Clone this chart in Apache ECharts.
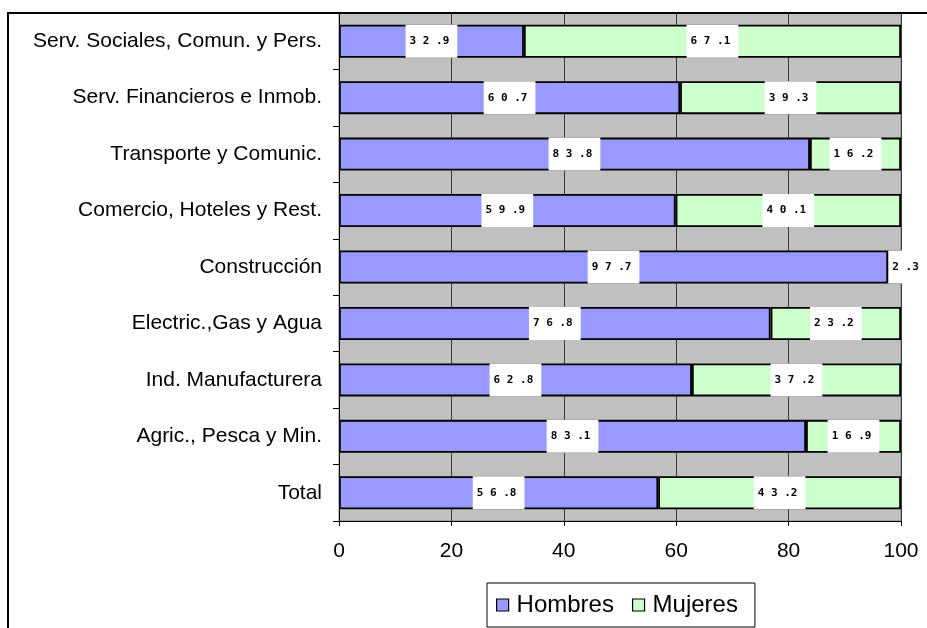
<!DOCTYPE html>
<html>
<head>
<meta charset="utf-8">
<script src="https://cdn.jsdelivr.net/npm/echarts@6/dist/echarts.min.js"></script>
<style>html,body{margin:0;padding:0;background:#fff}#c{width:927px;height:628px}</style>
</head>
<body>
<div id="c"></div>
<script>
const categories = ["Total", "Agric., Pesca y Min.", "Ind. Manufacturera", "Electric.,Gas y Agua", "Construcción", "Comercio, Hoteles y Rest.", "Transporte y Comunic.", "Serv. Financieros e Inmob.", "Serv. Sociales, Comun. y Pers."];
const hombres = [56.8, 83.1, 62.8, 76.8, 97.7, 59.9, 83.8, 60.7, 32.9];
const mujeres = [43.2, 16.9, 37.2, 23.2, 2.3, 40.1, 16.2, 39.3, 67.1];
const xTicks = [0, 20, 40, 60, 80, 100];

function fmt(v) {
  const s = v.toFixed(1);
  const parts = s.split('.');
  return parts[0].split('').join(' ') + ' .' + parts[1];
}

const chart = echarts.init(document.getElementById('c'), null, {renderer: 'canvas'});
const labelStyle = {
  show: true,
  position: 'inside',
  formatter: p => fmt(p.value),
  backgroundColor: '#fff',
  color: '#000',
  fontFamily: 'DejaVu Sans Mono',
  fontWeight: 'bold',
  fontSize: 11,
  lineHeight: 12,
  padding: [11, 8, 10, 4]
};
function mkData(arr) {
  return arr.map(v => v < 5 ? {value: v, label: {offset: [13, 0]}} : v);
}
chart.setOption({
  animation: false,
  backgroundColor: '#fff',
  grid: {left: 339, right: 26, top: 13, bottom: 107, show: true, backgroundColor: '#C0C0C0', borderWidth: 1, borderColor: '#808080'},
  xAxis: {
    type: 'value', min: xTicks[0], max: xTicks[xTicks.length - 1], interval: 20,
    axisLine: {show: true, lineStyle: {color: '#000', width: 1}},
    axisTick: {show: true, length: 5, lineStyle: {color: '#000'}},
    axisLabel: {color: '#000', fontSize: 21, fontFamily: 'Liberation Sans', margin: 20},
    splitLine: {show: true, lineStyle: {color: '#3a3a3a', width: 1}}
  },
  yAxis: {
    type: 'category', data: categories,
    axisLine: {show: true, lineStyle: {color: '#000', width: 1}},
    axisTick: {show: true, length: 6, lineStyle: {color: '#000'}},
    axisLabel: {color: '#000', fontSize: 21, fontFamily: 'Liberation Sans', margin: 17}
  },
  legend: {
    top: 583, left: 487,
    data: ['Hombres', 'Mujeres'],
    icon: 'rect', itemWidth: 12, itemHeight: 12, itemGap: 18,
    borderColor: '#000', borderWidth: 1, padding: [10, 17, 10, 9],
    textStyle: {color: '#000', fontSize: 24, fontFamily: 'Liberation Sans', padding: [0, 0, 0, 3]},
    itemStyle: {borderColor: '#000', borderWidth: 1.2}
  },
  series: [
    {name: 'Hombres', type: 'bar', stack: 's', barWidth: 33, data: mkData(hombres),
     itemStyle: {color: '#9999FF', borderColor: '#000', borderWidth: 1.8}, label: labelStyle},
    {name: 'Mujeres', type: 'bar', stack: 's', barWidth: 33, data: mkData(mujeres),
     itemStyle: {color: '#CCFFCC', borderColor: '#000', borderWidth: 1.8}, label: labelStyle}
  ],
  graphic: [
    {type: 'polyline', shape: {points: [[8, 628], [8, 13], [927, 13]]}, style: {stroke: '#000', lineWidth: 2, fill: null}, z: 100}
  ]
});
</script>
</body>
</html>
